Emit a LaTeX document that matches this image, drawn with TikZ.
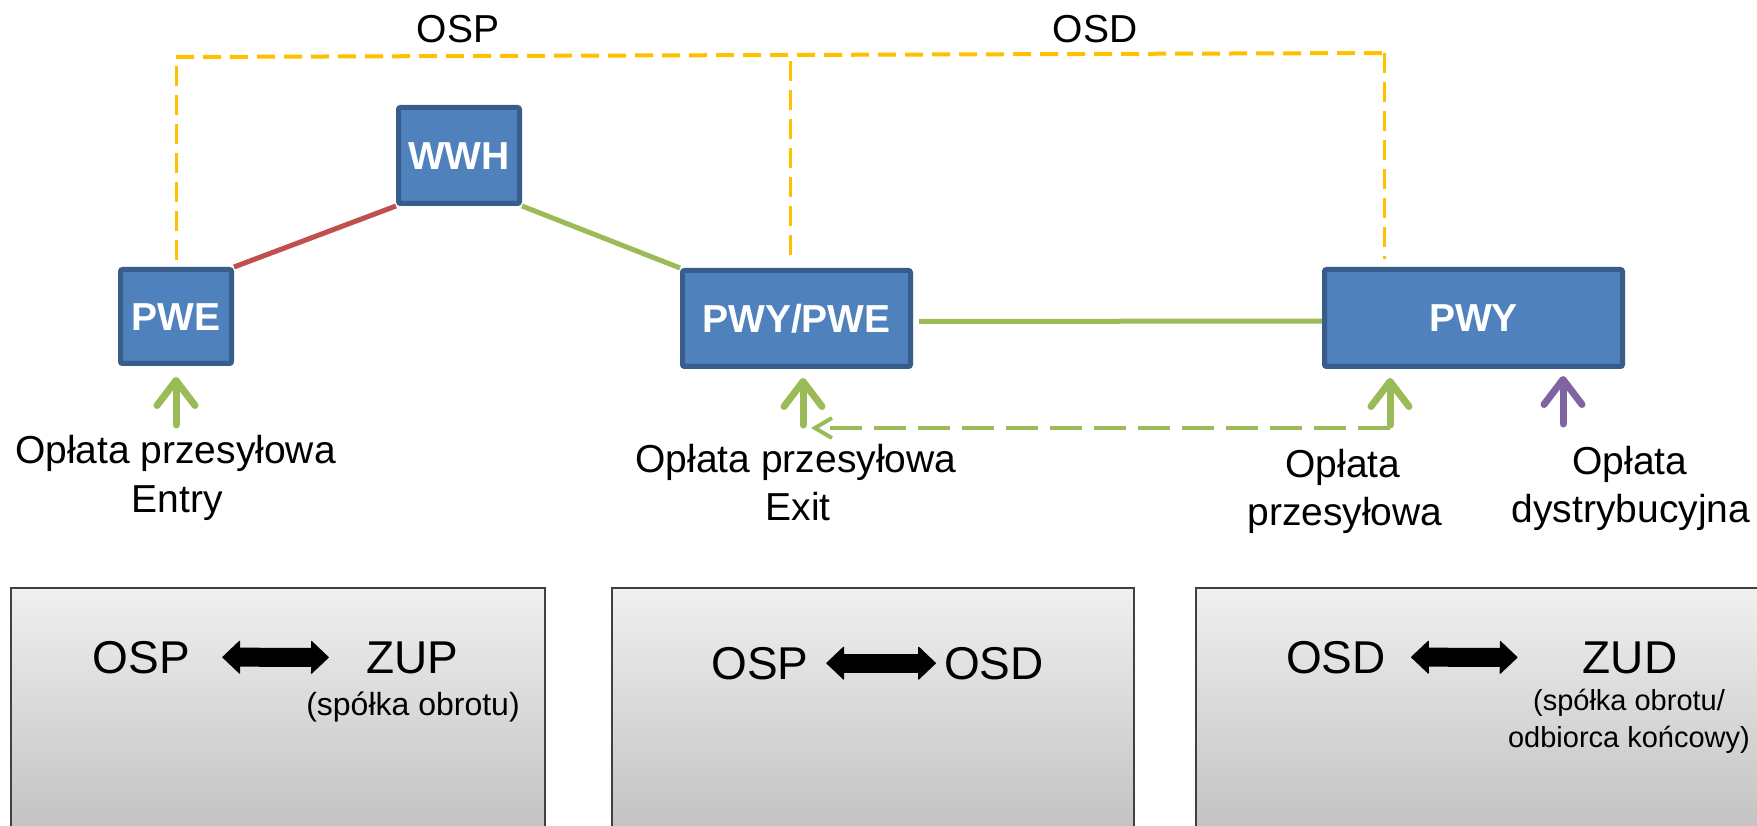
\documentclass[tikz,border=0pt]{standalone}
\usepackage{fontspec}
\setmainfont{Liberation Sans}
\usetikzlibrary{arrows.meta,calc}
\definecolor{bfill}{HTML}{4F81BD}
\definecolor{bdraw}{HTML}{385D8A}
\definecolor{yel}{HTML}{FFC000}
\definecolor{rd}{HTML}{C0504D}
\definecolor{gr}{HTML}{9BBB59}
\definecolor{pu}{HTML}{8064A2}
\begin{document}
\begin{tikzpicture}[x=1pt,y=-1pt,
  boxst/.style={draw=bdraw, fill=bfill, line width=5pt, rounded corners=2pt, text=white,
    font=\bfseries\fontsize{39pt}{47pt}\selectfont, text height=28pt, text depth=0pt, inner sep=0pt},
  lbl/.style={font=\fontsize{39pt}{47pt}\selectfont, inner sep=0pt, anchor=base},
  big/.style={font=\fontsize{46pt}{55pt}\selectfont, inner sep=0pt, anchor=base},
  small/.style={font=\fontsize{32pt}{37pt}\selectfont, inner sep=0pt, anchor=base},
  smaller/.style={font=\fontsize{29pt}{37pt}\selectfont, inner sep=0pt, anchor=base},
  conn/.style={line width=5pt, line cap=butt},
  ydh/.style={draw=yel, line width=4pt, dash pattern=on 18pt off 9pt},
  ydv/.style={draw=yel, line width=3pt, dash pattern=on 20pt off 9pt},
  uparr/.style={line width=7pt, line cap=round, -{Straight Barb[length=25pt,width=38pt,round]}},
  gdash/.style={draw=gr, line width=4pt, dash pattern=on 32pt off 12pt, -{Straight Barb[length=17pt,width=20pt]}},
  bbox/.style={draw=black!75, line width=2pt, top color=black!6, bottom color=black!28, inner sep=0pt},
  dbl/.style={line width=19pt, {Triangle[length=18pt,width=34pt,line width=1pt,round]}-{Triangle[length=18pt,width=34pt,line width=1pt,round]}}
]
\useasboundingbox (0,0) rectangle (1757,826);
\begin{scope}
\clip (0,0) rectangle (1757,826);
\fill[white] (0,0) rectangle (1757,826);

% bottom boxes
\node[bbox, minimum width=534pt, minimum height=300pt, anchor=north west] (B1) at (10,587) {};
\node[bbox, minimum width=522pt, minimum height=300pt, anchor=north west] (B2) at (611,587) {};
\node[bbox, minimum width=620pt, minimum height=300pt, anchor=north west] (B3) at (1195,587) {};

% nodes
\node[boxst, minimum width=111pt, minimum height=94pt] (PWE) at (176,316.5) {PWE};
\node[boxst, minimum width=121pt, minimum height=96pt] (WWH) at (459,155.5) {WWH};
\node[boxst, minimum width=228pt, minimum height=96pt] (PWYPWE) at (796.5,318.5) {PWY/PWE};
\node[boxst, minimum width=298pt, minimum height=97pt] (PWY) at (1473.5,318) {PWY};

% links
\draw[conn, rd] (PWE.north east) -- (WWH.south west);
\draw[conn, gr] (WWH.south east) -- (PWYPWE.north west);
\draw[conn, gr] ([xshift=6pt,yshift=-3pt]PWYPWE.east) -- ([yshift=-3pt]PWY.west);

% yellow dashed
\coordinate (Y1) at (176,57);
\coordinate (Y2) at (1384,53);
\coordinate (Y3) at (790,61);
\draw[ydv] ([yshift=7pt]PWE.north) -- (Y1);
\draw[ydh] (Y1) -- (Y2);
\draw[ydv, shorten >=8pt] (Y3) -- (Y3 |- PWYPWE.north);
\draw[ydv, shorten >=8pt] (Y2) -- (Y2 |- PWY.north);

\node[lbl] (tOSP) at (458,43) {OSP};
\node[lbl] (tOSD) at (1095,43) {OSD};

% up arrows
\coordinate (A1) at (176,425);
\coordinate (A2) at (803,425);
\coordinate (A3) at (1390,425);
\coordinate (A4) at (1563,424);
\draw[uparr, gr] (A1) -- ($(A1 |- PWE.south)+(0,11)$);
\draw[uparr, gr] (A2) -- ($(A2 |- PWYPWE.south)+(0,9)$);
\draw[uparr, gr] (A3) -- ($(A3 |- PWY.south)+(0,9)$);
\draw[uparr, pu] (A4) -- ($(A4 |- PWY.south)+(0,7)$);

\coordinate (D1) at (1390,428);
\coordinate (D2) at (811,428);
\draw[gdash] (D1) -- (D2);

% labels
\node[lbl] (l1a) at (175.5,463) {Opłata przesyłowa};
\node[lbl] (l1b) at (177,512) {Entry};
\node[lbl] (l2a) at (796,472) {Opłata przesyłowa};
\node[lbl] (l2b) at (798,520) {Exit};
\node[lbl] (l3a) at (1343,477) {Opłata};
\node[lbl] (l3b) at (1345,525) {przesyłowa};
\node[lbl] (l4a) at (1630,474) {Opłata};
\node[lbl] (l4b) at (1631,522) {dystrybucyjna};

% bottom box contents
\node[big] (o1) at (141.5,673) {OSP};
\node[big] (z1) at (412,673) {ZUP};
\node[small] (s1) at (413,715) {(spółka obrotu)};
\draw[dbl] ([xshift=32pt]o1.east) -- ([xshift=-37pt]z1.west);

\node[big] (o2) at (760,679) {OSP};
\node[big] (z2) at (994,679) {OSD};
\draw[dbl] ([xshift=17.5pt]o2.east) -- ([xshift=-8pt]z2.west);

\node[big] (o3) at (1336,673) {OSD};
\node[big] (z3) at (1630,673) {ZUD};
\node[smaller] (s3a) at (1629,710) {(spółka obrotu/};
\node[smaller] (s3b) at (1629,747) {odbiorca końcowy)};
\draw[dbl] ([xshift=25pt]o3.east) -- ([xshift=-65pt]z3.west);
\end{scope}
\end{tikzpicture}
\end{document}
